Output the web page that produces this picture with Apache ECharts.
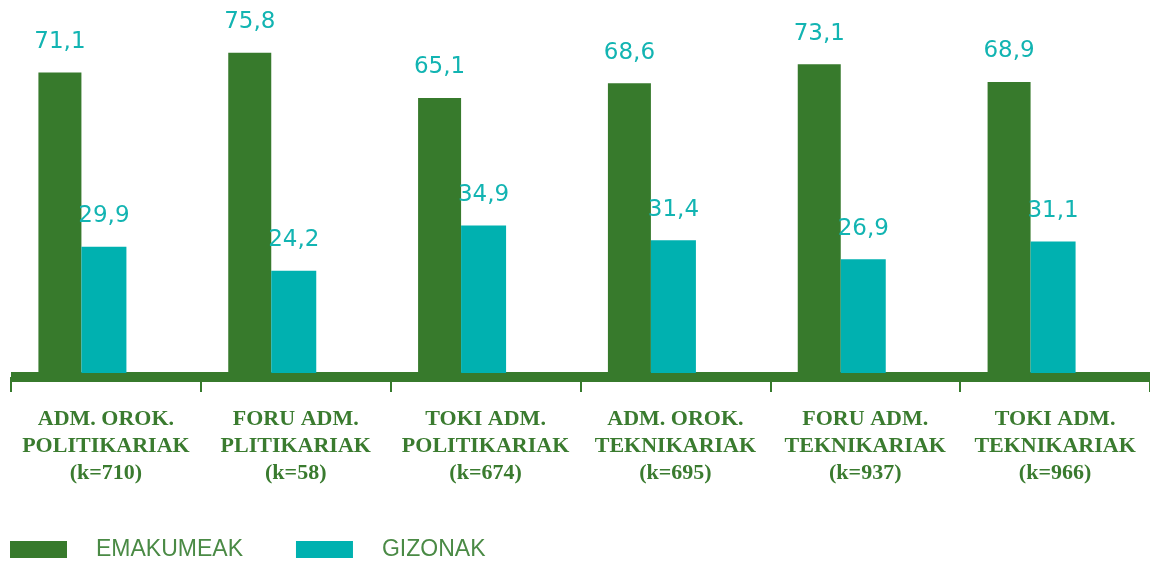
<!DOCTYPE html>
<html>
<head>
<meta charset="utf-8">
<script src="https://cdn.jsdelivr.net/npm/echarts@6/dist/echarts.min.js"></script>
<style>
	html,body{margin:0;padding:0;background:#fff;}
	#chart{width:1150px;height:561px;}
</style>
</head>
<body>
<div id="chart"></div>
<script>
// datuak
var categories = [
	'ADM. OROK.\nPOLITIKARIAK\n(k=710)',
	'FORU ADM.\nPLITIKARIAK\n(k=58)',
	'TOKI ADM.\nPOLITIKARIAK\n(k=674)',
	'ADM. OROK.\nTEKNIKARIAK\n(k=695)',
	'FORU ADM.\nTEKNIKARIAK\n(k=937)',
	'TOKI ADM.\nTEKNIKARIAK\n(k=966)'
];
var emakumeak = [71.1, 75.8, 65.1, 68.6, 73.1, 68.9];
var gizonak = [29.9, 24.2, 34.9, 31.4, 26.9, 31.1];
var spacer = [0, 0, 0, 0, 0, 0];

var green = '#377a2c';
var teal = '#00b1b0';

var valueLabel = {
	show: true,
	position: 'top',
	distance: 19,
	color: '#12b4b2',
	fontFamily: 'DejaVu Sans',
	fontSize: 23,
	formatter: function (p) {
		return String(p.value.toFixed(1)).replace('.', ',');
	}
};

var chart = echarts.init(document.getElementById('chart'));
chart.setOption({
	animation: false,
	grid: {
		left: 11,
		width: 1145,
		top: 35,
		bottom: 188
	},
	legend: {
		data: ['EMAKUMEAK', 'GIZONAK'],
		left: 5,
		top: 533,
		itemWidth: 57,
		itemHeight: 17,
		itemGap: 53,
		icon: 'rect',
		textStyle: {
			color: '#4a8a45',
			fontFamily: 'Liberation Sans',
			fontSize: 23,
			padding: [0, 0, 0, 24]
		}
	},
	xAxis: {
		type: 'category',
		data: categories,
		offset: 4,
		axisLine: {
			onZero: false,
			lineStyle: {color: green, width: 10, cap: 'butt'}
		},
		axisTick: {
			show: true,
			length: 15,
			lineStyle: {color: green, width: 2}
		},
		axisLabel: {
			interval: 0,
			margin: 29,
			color: '#3a7b2f',
			fontFamily: 'Liberation Serif',
			fontWeight: 'bold',
			fontSize: 22,
			lineHeight: 27
		}
	},
	yAxis: {
		type: 'value',
		show: false,
		min: 0,
		max: 80,
		splitLine: {show: false}
	},
	series: [
		{
			name: 'EMAKUMEAK',
			type: 'bar',
			data: emakumeak,
			barWidth: 43,
			barGap: 0,
			itemStyle: {color: green},
			label: valueLabel
		},
		{
			name: 'GIZONAK',
			type: 'bar',
			data: gizonak,
			barWidth: 45,
			barGap: 0,
			itemStyle: {color: teal},
			label: valueLabel
		},
		{
			name: 'hutsa',
			type: 'bar',
			data: spacer,
			barWidth: 47,
			barGap: 0,
			silent: true,
			itemStyle: {color: 'rgba(0,0,0,0)'}
		}
	]
});
</script>
</body>
</html>
